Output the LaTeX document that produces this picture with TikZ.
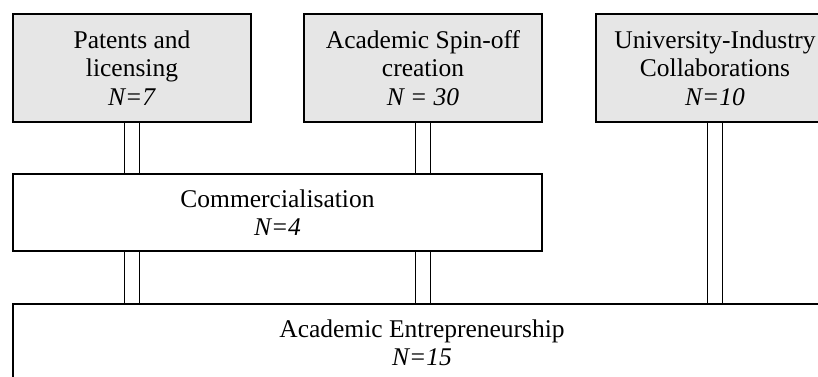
\documentclass[tikz,border=0pt]{standalone}
\usepackage{fontspec}
\setmainfont{Liberation Serif}
\definecolor{boxgray}{HTML}{E6E6E6}
\tikzset{
  topbox/.style={draw, line width=0.9pt, fill=boxgray, minimum width=119pt, minimum height=54pt, align=center, inner sep=0pt},
  lowbox/.style={draw, line width=0.9pt, fill=white, minimum height=38.5pt, align=center, inner sep=0pt},
  link/.style={line width=0.9pt}
}
\begin{document}
\begin{tikzpicture}[x=0.5pt, y=-0.5pt, font=\fontsize{12.75}{14.2}\selectfont]
\useasboundingbox (0,0) rectangle (818,376);
\clip (0,0) rectangle (818,376);
% top row
\node[topbox] (pat) at (132,68) {Patents and\\licensing\\\textit{N=7}};
\node[topbox] (spin) at (423,68) {Academic Spin-off\\creation\\\textit{N = 30}};
\node[topbox] (uic) at (715,68) {University-Industry\\Collaborations\\\textit{N=10}};
% lower boxes
\node[lowbox, minimum width=264.5pt] (com) at (277.5,212.5) {Commercialisation\\\textit{N=4}};
\node[lowbox, minimum width=409pt] (ae) at (422,342.5) {Academic Entrepreneurship\\\textit{N=15}};
% double links
\foreach \dx in {-3.75pt, 3.75pt} {
  \draw[link] ([xshift=\dx]pat.south) -- ([xshift=\dx]pat.south |- com.north);
  \draw[link] ([xshift=\dx]spin.south) -- ([xshift=\dx]spin.south |- com.north);
  \draw[link] ([xshift=\dx]uic.south) -- ([xshift=\dx]uic.south |- ae.north);
  \draw[link] ([xshift=\dx]pat.south |- com.south) -- ([xshift=\dx]pat.south |- ae.north);
  \draw[link] ([xshift=\dx]spin.south |- com.south) -- ([xshift=\dx]spin.south |- ae.north);
}
\end{tikzpicture}
\end{document}
